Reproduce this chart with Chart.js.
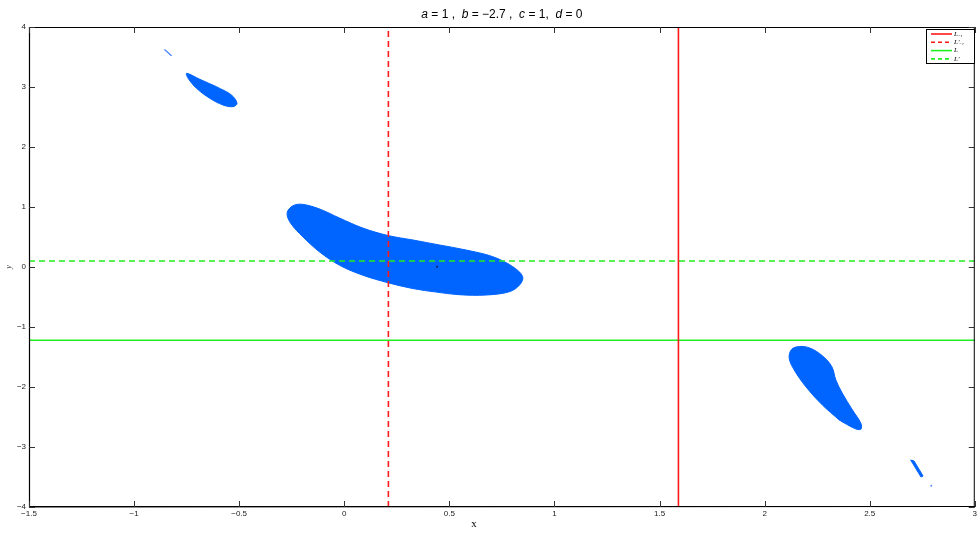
<!DOCTYPE html>
<html>
<head>
<meta charset="utf-8">
<script src="https://cdn.jsdelivr.net/npm/chart.js@4.4.0/dist/chart.umd.min.js"></script>
<style>
  html, body { margin: 0; padding: 0; background: #fff; }
  #wrap { width: 979px; height: 534px; }
</style>
</head>
<body>
<div id="wrap"><canvas id="plot" width="979" height="534"></canvas></div>
<script>
// axis ticks
const xTicks = [-1.5, -1, -0.5, 0, 0.5, 1, 1.5, 2, 2.5, 3];
const yTicks = [-4, -3, -2, -1, 0, 1, 2, 3, 4];

// reference lines
const xLm1 = 1.59;    // L_{-1}
const xLpm1 = 0.21;   // L'_{-1}
const yL = -1.22;     // L
const yLp = 0.1;      // L'

// regions (outline points)
const mainBlob = [
  [0.327, 0.45], [0.453, 0.367], [0.580, 0.283], [0.707, 0.172], [0.802, 0.005],
  [0.849, -0.162], [0.834, -0.30], [0.786, -0.412], [0.675, -0.467], [0.548, -0.462],
  [0.438, -0.418], [0.327, -0.36], [0.208, -0.262], [0.089, -0.138], [-0.022, 0.028],
  [-0.117, 0.25], [-0.196, 0.50], [-0.255, 0.73], [-0.272, 0.90], [-0.245, 1.02],
  [-0.20, 1.045], [-0.12, 0.97], [-0.022, 0.815], [0.089, 0.648], [0.208, 0.525]
];
const topBlob = [
  [-0.608, 3.005], [-0.537, 2.867], [-0.510, 2.728], [-0.529, 2.672], [-0.577, 2.70],
  [-0.640, 2.812], [-0.703, 2.978], [-0.743, 3.145], [-0.750, 3.228], [-0.687, 3.128]
];
const topStreak = [[-0.856, 3.62], [-0.852, 3.622], [-0.821, 3.525], [-0.825, 3.522]];
const rightBlob = [
  [2.355, -2.55], [2.426, -2.688], [2.458, -2.705], [2.458, -2.605], [2.418, -2.383],
  [2.370, -2.105], [2.339, -1.883], [2.320, -1.662], [2.275, -1.48], [2.215, -1.35],
  [2.165, -1.325], [2.128, -1.375], [2.117, -1.522], [2.141, -1.717], [2.196, -1.995],
  [2.275, -2.30]
];
const rightStreak = [[2.695, -3.217], [2.711, -3.233], [2.754, -3.483], [2.744, -3.50]];
const dots = [[0.442, 0.005], [2.793, -3.645]];

const blue = '#0064ff';
const red = '#ff1a1a';
const green = '#22ee22';

function pts(arr, close) {
  const out = arr.map(p => ({ x: p[0], y: p[1] }));
  if (close) out.push({ x: arr[0][0], y: arr[0][1] });
  return out;
}

function region(arr, tension, color) {
  return {
    data: pts(arr, true),
    showLine: true,
    borderColor: color || blue,
    backgroundColor: color || blue,
    borderWidth: 1,
    pointRadius: 0,
    fill: 'shape',
    tension: tension,
    order: 3
  };
}

function refLine(data, color, dash) {
  return {
    data: data,
    showLine: true,
    borderColor: color,
    borderWidth: 1.6,
    borderDash: dash,
    pointRadius: 0,
    fill: false,
    order: 1
  };
}

const legendItems = [
  { label: 'L₋₁', color: red, dash: [] },
  { label: 'L′₋₁', color: red, dash: [4, 3] },
  { label: 'L', color: green, dash: [] },
  { label: 'L′', color: green, dash: [4, 3] }
];

const decor = {
  id: 'decor',
  afterDraw(chart) {
    const ctx = chart.ctx;
    const a = chart.chartArea;
    const xs = chart.scales.x, ys = chart.scales.y;
    ctx.save();
    // box
    ctx.strokeStyle = '#000';
    ctx.lineWidth = 1;
    ctx.strokeRect(a.left + 0.5, a.top + 0.5, a.right - a.left - 1, a.bottom - a.top - 1);
    ctx.lineWidth = 1.2;
    ctx.beginPath();
    ctx.moveTo(a.left + 0.5, a.top); ctx.lineTo(a.left + 0.5, a.bottom);
    ctx.lineTo(a.right, a.bottom - 0.5);
    ctx.stroke();
    // inward ticks
    ctx.lineWidth = 1;
    ctx.strokeStyle = '#333';
    ctx.beginPath();
    xTicks.forEach(v => {
      const px = Math.round(xs.getPixelForValue(v)) + 0.5;
      ctx.moveTo(px, a.bottom); ctx.lineTo(px, a.bottom - 6);
      ctx.moveTo(px, a.top); ctx.lineTo(px, a.top + 6);
    });
    yTicks.forEach(v => {
      const py = Math.round(ys.getPixelForValue(v)) + 0.5;
      ctx.moveTo(a.left, py); ctx.lineTo(a.left + 6, py);
      ctx.moveTo(a.right, py); ctx.lineTo(a.right - 6, py);
    });
    ctx.stroke();

    // title with italic variables
    const parts = [
      ['a', true], [' = 1 ,  ', false], ['b', true], [' = −2.7 ,  ', false],
      ['c', true], [' = 1,  ', false], ['d', true], [' = 0', false]
    ];
    const fontFor = it => (it ? 'italic ' : '') + '12px "Liberation Sans", Arial, sans-serif';
    let total = 0;
    parts.forEach(p => { ctx.font = fontFor(p[1]); total += ctx.measureText(p[0]).width; });
    let tx = (a.left + a.right) / 2 - total / 2;
    ctx.fillStyle = '#000';
    ctx.textBaseline = 'alphabetic';
    ctx.textAlign = 'left';
    parts.forEach(p => {
      ctx.font = fontFor(p[1]);
      ctx.fillText(p[0], tx, 18);
      tx += ctx.measureText(p[0]).width;
    });

    // axis labels
    ctx.font = '11px "Liberation Serif", "Times New Roman", serif';
    ctx.textAlign = 'center';
    ctx.fillText('x', (a.left + a.right) / 2 - 28, 527);
    ctx.save();
    ctx.translate(11, (a.top + a.bottom) / 2);
    ctx.rotate(-Math.PI / 2);
    ctx.font = 'italic 8px "Liberation Serif", serif';
    ctx.fillStyle = '#444';
    ctx.fillText('y', 0, 0);
    ctx.restore();

    // legend
    const lx = 926.5, ly = 29.5, lw = 48, lh = 34;
    ctx.fillStyle = '#fff';
    ctx.fillRect(lx, ly, lw, lh);
    ctx.strokeStyle = '#000';
    ctx.lineWidth = 1;
    ctx.strokeRect(lx, ly, lw, lh);
    legendItems.forEach((it, i) => {
      const y = 34 + i * 8.3;
      ctx.strokeStyle = it.color;
      ctx.lineWidth = 1.6;
      ctx.setLineDash(it.dash);
      ctx.beginPath();
      ctx.moveTo(931, y); ctx.lineTo(952, y);
      ctx.stroke();
      ctx.setLineDash([]);
      ctx.fillStyle = '#000';
      ctx.textAlign = 'left';
      ctx.textBaseline = 'middle';
      ctx.font = 'italic 7px "Liberation Serif", serif';
      ctx.fillText(it.label, 954, y);
    });
    ctx.restore();
  }
};

const tickFont = { family: '"Liberation Sans", Arial, sans-serif', size: 8 };
const fmt = v => String(v).replace('-', '−');

new Chart(document.getElementById('plot'), {
  type: 'scatter',
  data: {
    datasets: [
      refLine([{ x: xLm1, y: -4 }, { x: xLm1, y: 4 }], red, []),
      refLine([{ x: xLpm1, y: -4 }, { x: xLpm1, y: 4 }], red, [6, 4]),
      refLine([{ x: -1.5, y: yL }, { x: 3, y: yL }], green, []),
      refLine([{ x: -1.5, y: yLp }, { x: 3, y: yLp }], green, [6, 4]),
      region(mainBlob, 0.35),
      region(topBlob, 0.35),
      region(topStreak, 0, '#5b8fff'),
      region(rightBlob, 0.35),
      region(rightStreak, 0),
      {
        data: pts(dots, false),
        pointRadius: 1,
        pointBorderWidth: 0,
        pointBackgroundColor: ['#001a66', '#5a8cff'],
        order: 2
      }
    ]
  },
  options: {
    responsive: false,
    animation: false,
    layout: { padding: { top: 27, right: 4, left: 0, bottom: 0 } },
    plugins: {
      legend: { display: false },
      title: { display: false },
      tooltip: { enabled: false }
    },
    scales: {
      x: {
        type: 'linear', min: -1.5, max: 3,
        afterBuildTicks: s => { s.ticks = xTicks.map(v => ({ value: v })); },
        afterFit: s => { s.height = 27; },
        grid: { display: false, drawTicks: false, tickLength: 0 },
        border: { display: false },
        ticks: { font: tickFont, color: '#222', padding: 2, maxRotation: 0, callback: fmt }
      },
      y: {
        type: 'linear', min: -4, max: 4,
        afterBuildTicks: s => { s.ticks = yTicks.map(v => ({ value: v })); },
        afterFit: s => { s.width = 29; },
        grid: { display: false, drawTicks: false, tickLength: 0 },
        border: { display: false },
        ticks: { font: tickFont, color: '#222', padding: 3, callback: fmt }
      }
    }
  },
  plugins: [decor]
});
</script>
</body>
</html>
